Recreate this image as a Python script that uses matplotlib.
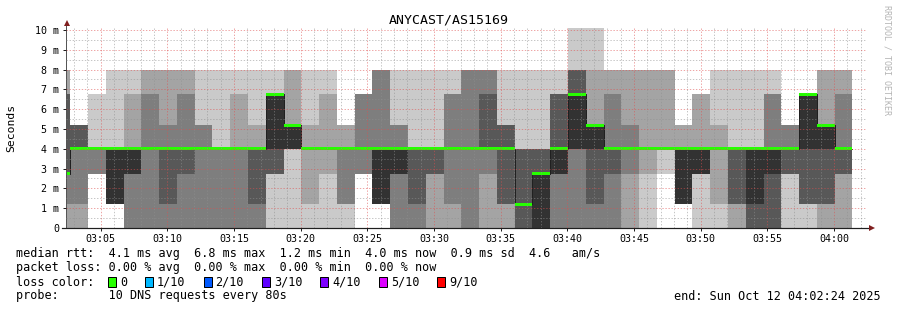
import matplotlib
matplotlib.use("Agg")
import matplotlib.pyplot as plt
import numpy as np
from matplotlib.ticker import MultipleLocator, FuncFormatter
from matplotlib.patches import Rectangle

plt.rcParams['lines.scale_dashes'] = False
MONO = 'DejaVu Sans Mono'

# ---------------- data ----------------
title = "ANYCAST/AS15169"
ylabel = "Seconds"
window_start_min = 2.4      # 03:02:24 (minutes after 03:00)
window_end_min = 62.4       # 04:02:24
first_step_start_min = 1.382  # start of first (partial) 80 s step
step_min = 80 / 60.0

# sorted ping times (ms) for each 80 s step, rank 1 (fastest) .. rank 10 (slowest)
p1 = [0, 0, 2.75, 1.2, 0, 0, 0, 0, 0, 0, 0, 0, 0, 0, 0, 0, 0, 2.75, 1.2, 0, 0, 0, 0, 0, 0,
      0, 0, 0, 0, 0, 0, 0, 0, 0, 2.75, 1.2, 0, 0, 0, 0, 0, 0, 0, 0, 0]
p2 = [0, 0, 2.75, 1.2, 0, 0, 0, 0, 0, 0, 0, 0, 2.75, 4, 1.2, 2.75, 1.2, 2.75, 1.2, 0, 0, 0, 0, 0, 0,
      0, 0, 0, 0, 0, 0, 0, 0, 2.75, 4, 1.2, 2.75, 1.2, 0, 0, 0, 2.75, 1.2, 0, 0]
p3 = [1.2, 1.2, 2.75, 1.2, 0, 0, 0, 0, 0, 0, 0, 0, 2.75, 4, 4, 4, 1.2, 2.75, 1.2, 0, 0, 2.75, 1.2, 0, 2.75,
      1.2, 0, 0, 0, 0, 0, 0, 2.75, 4, 4, 1.2, 2.75, 4, 1.2, 0, 0, 2.75, 1.2, 1.2, 2.75]
p4 = [2.75, 4, 4, 1.2, 2.75, 4, 1.2, 2.75, 4, 4, 4, 1.2, 2.75, 4, 4, 4, 4, 4, 1.2, 2.75, 1.2, 2.75, 4, 4, 4,
      1.2, 0, 0, 2.75, 4, 1.2, 2.75, 4, 4, 4, 1.2, 2.75, 4, 1.2, 0, 0, 2.75, 1.2, 1.2, 2.75]
p5 = [2.75, 4, 4, 1.2, 2.75, 4, 4, 4, 4, 4, 4, 4, 4, 4, 4, 4, 4, 4, 1.2, 2.75, 4, 4, 4, 4, 4,
      4, 1.2, 0, 2.75, 4, 4, 4, 4, 4, 4, 1.2, 2.75, 4, 4, 1.2, 2.75, 4, 4, 4, 4]
p6 = [2.75, 4, 4, 4, 4, 4, 4, 4, 4, 4, 4, 4, 6.75, 5.2, 4, 4, 4, 4, 4, 4, 4, 4, 4, 4, 4,
      4, 1.2, 2.75, 4, 6.75, 5.2, 4, 4, 4, 4, 4, 4, 4, 4, 4, 4, 4, 6.75, 5.2, 4]
p7 = [6.75, 5.2, 4, 4, 4, 4, 4, 4, 4, 4, 4, 4, 6.75, 5.2, 4, 4, 4, 4, 4, 4, 4, 4, 4, 4, 6.75,
      5.2, 4, 4, 6.75, 8, 5.2, 4, 4, 4, 4, 4, 4, 4, 4, 4, 4, 4, 6.75, 5.2, 4]
p8 = [6.75, 5.2, 4, 4, 4, 6.75, 5.2, 6.75, 5.2, 4, 4, 4, 6.75, 5.2, 4, 4, 4, 6.75, 8, 5.2, 4, 4, 6.75, 8, 8,
      5.2, 4, 4, 6.75, 8, 5.2, 6.75, 5.2, 4, 4, 4, 4, 4, 4, 4, 6.75, 5.2, 6.75, 5.2, 6.75]
p9 = [8, 5.2, 4, 4, 6.75, 8, 8, 8, 5.2, 4, 6.75, 5.2, 6.75, 8, 5.2, 6.75, 5.2, 6.75, 8, 5.2, 4, 4, 6.75, 8, 8,
      5.2, 4, 4, 6.75, 8, 8, 8, 8, 8, 8, 5.2, 6.75, 5.2, 4, 4, 6.75, 5.2, 6.75, 8, 8]
p10 = [8, 5.2, 6.75, 8, 8, 8, 8, 8, 8, 8, 8, 8, 8, 8, 8, 8, 5.2, 6.75, 8, 8, 8, 8, 8, 8, 8,
       8, 8, 8, 8, 10.1, 10.1, 8, 8, 8, 8, 5.2, 6.75, 8, 8, 8, 8, 5.2, 6.75, 8, 8]
median_rtt = [2.75, 4, 4, 4, 4, 4, 4, 4, 4, 4, 4, 4, 6.75, 5.2, 4, 4, 4, 4, 4, 4, 4, 4, 4, 4, 4,
              4, 1.2, 2.75, 4, 6.75, 5.2, 4, 4, 4, 4, 4, 4, 4, 4, 4, 4, 4, 6.75, 5.2, 4]

y_ticks = [0, 1, 2, 3, 4, 5, 6, 7, 8, 9, 10]
x_tick_minutes = [5, 10, 15, 20, 25, 30, 35, 40, 45, 50, 55, 60]

loss_labels = ["0", "1/10", "2/10", "3/10", "4/10", "5/10", "9/10"]
loss_colors = ["#26ff00", "#00b8ff", "#0059ff", "#5e00ff", "#7e00ff", "#dd00ff", "#ff0000"]

stats_line1 = "median rtt:  4.1 ms avg  6.8 ms max  1.2 ms min  4.0 ms now  0.9 ms sd  4.6   am/s"
stats_line2 = "packet loss: 0.00 % avg  0.00 % max  0.00 % min  0.00 % now"
loss_caption = "loss color:"
probe_line = "probe:       10 DNS requests every 80s"
end_line = "end: Sun Oct 12 04:02:24 2025"
watermark = "RRDTOOL / TOBI OETIKER"

# ---------------- figure ----------------
W, H = 897, 310
fig = plt.figure(figsize=(W / 100, H / 100), dpi=100)
fig.patch.set_facecolor('white')
PX = 0.72  # one pixel in points

ax_l, ax_r, ax_t, ax_b = 66, 866, 28, 228
ax = fig.add_axes([ax_l / W, (H - ax_b) / H, (ax_r - ax_l) / W, (ax_b - ax_t) / H])
ax.set_xlim(window_start_min, window_end_min)
ax.set_ylim(0, 10.1)
ax.set_facecolor('white')

pings = [np.array(p, float) for p in (p1, p2, p3, p4, p5, p6, p7, p8, p9, p10)]
n = len(p1)
edges = first_step_start_min + step_min * np.arange(n + 1)
half = 5
for ib in range(half):
    lo = pings[ib]
    hi = pings[9 - ib]
    g = int(190 / half * (half - 1 - ib)) + 50
    col = '#%02x%02x%02x' % (g, g, g)
    ax.fill_between(edges, np.r_[lo, lo[-1]], np.r_[hi, hi[-1]], step='post',
                    color=col, lw=0, antialiased=False, zorder=1 + ib * 0.01)

med = np.array(median_rtt, float)
med_ext = np.r_[med, med[-1]]
ax.step(edges, med_ext, where='post', color='#202020', lw=PX, zorder=1.2)
sw = 1.5 / 19.8
ax.fill_between(edges, med_ext - sw, med_ext + sw, step='post', color=loss_colors[0],
                lw=0, antialiased=False, zorder=1.3)

# grid
ax.xaxis.set_major_locator(MultipleLocator(5))
ax.xaxis.set_minor_locator(MultipleLocator(1))
ax.yaxis.set_major_locator(MultipleLocator(1))
ax.yaxis.set_minor_locator(MultipleLocator(0.5))
ax.set_axisbelow(False)
ax.grid(which='minor', color='#8f8f8f', alpha=0.5, lw=PX, linestyle=(0, (1.0, 1.2)))
ax.grid(which='major', color='#de4f4f', alpha=0.5, lw=PX, linestyle=(0, (1.0, 1.2)))

ax.yaxis.set_major_formatter(FuncFormatter(lambda v, p: "0" if abs(v) < 1e-9 else "%d m" % round(v)))
ax.xaxis.set_major_formatter(FuncFormatter(lambda v, p: "%02d:%02d" % (3 + int(round(v)) // 60, int(round(v)) % 60)))
ax.tick_params(which='major', length=3 * PX, width=PX, color='#1f1f1f', direction='out')
ax.tick_params(which='minor', length=0)
ax.tick_params(axis='y', pad=2.6)
ax.tick_params(axis='x', pad=1.8)
for lab in ax.get_xticklabels() + ax.get_yticklabels():
    lab.set_fontfamily(MONO)
    lab.set_fontsize(7.2)

for s in ('top', 'right', 'bottom'):
    ax.spines[s].set_visible(False)
ax.spines['left'].set_color('#555555')
ax.spines['left'].set_linewidth(PX)
ax.spines['left'].set_bounds(0, 10.1 + 2 / 19.8)

# axes lines & arrows
ax.plot([-4 / 800, 1 + 3 / 800], [0, 0], transform=ax.transAxes, clip_on=False,
        color='#1f1f1f', lw=1.2 * PX, zorder=5)
ax.plot([1 + 6 / 800], [0], marker='>', ms=4.5, mew=0, color='#801f1f',
        transform=ax.transAxes, clip_on=False, zorder=6)
ax.plot([0.7 / 800], [1 + 5 / 200], marker='^', ms=4.5, mew=0, color='#801f1f',
        transform=ax.transAxes, clip_on=False, zorder=6)

# titles
fig.text(448.5 / W, 1 - 20 / H, title, ha='center', va='center', fontfamily=MONO, fontsize=9.5)
fig.text(11 / W, 1 - 128 / H, ylabel, ha='center', va='center', rotation=90,
         fontfamily=MONO, fontsize=8.2)
fig.text(887 / W, 1 - 5 / H, watermark, ha='center', va='top', rotation=270,
         fontfamily=MONO, fontsize=6.0, color='#b4b4b4')

# legend / stats
FS = 8.5
fig.text(16 / W, 1 - 254 / H, stats_line1, ha='left', va='center', fontfamily=MONO, fontsize=FS)
fig.text(16 / W, 1 - 268 / H, stats_line2, ha='left', va='center', fontfamily=MONO, fontsize=FS)
fig.text(16 / W, 1 - 282 / H, loss_caption, ha='left', va='center', fontfamily=MONO, fontsize=FS)
fig.text(16 / W, 1 - 296 / H, probe_line, ha='left', va='center', fontfamily=MONO, fontsize=FS)
fig.text(881 / W, 1 - 296 / H, end_line, ha='right', va='center', fontfamily=MONO, fontsize=FS)

bx = 108
for lab, col in zip(loss_labels, loss_colors):
    fig.add_artist(Rectangle((bx / W, 1 - 287 / H), 8 / W, 10 / H, transform=fig.transFigure,
                             facecolor=col, edgecolor='black', lw=PX))
    lx = bx + 12
    fig.text(lx / W, 1 - 282 / H, lab, ha='left', va='center', fontfamily=MONO, fontsize=FS)
    bx = lx + 7.1 * len(lab) + 18

fig.savefig("out.png", dpi=100, facecolor='white')
